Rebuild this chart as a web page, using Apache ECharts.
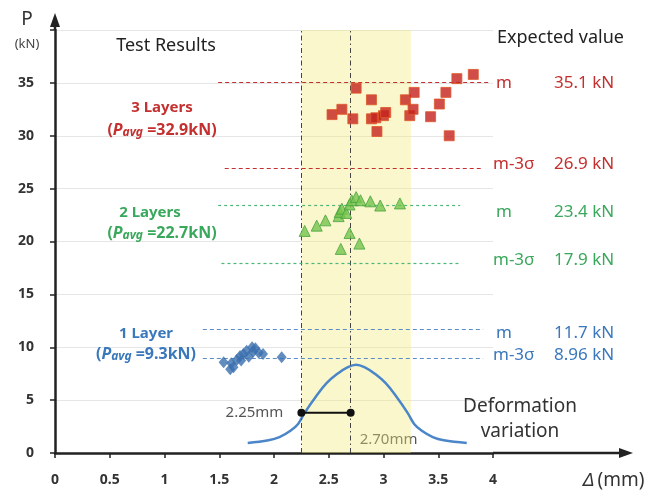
<!DOCTYPE html>
<html>
<head>
<meta charset="utf-8">
<script src="https://cdn.jsdelivr.net/npm/echarts@6/dist/echarts.min.js"></script>
<style>
  html, body { margin: 0; padding: 0; background: #ffffff; }
  #chart { width: 667px; height: 495px; }
</style>
</head>
<body>
<div id="chart"></div>
<script>
// Axis ticks
const xTickValues = [0, 0.5, 1, 1.5, 2, 2.5, 3, 3.5, 4];
const xTickLabels = ['0', '0.5', '1', '1.5', '2', '2.5', '3', '3.5', '4'];
const yTickValues = [0, 5, 10, 15, 20, 25, 30, 35, 40];
const yTickLabels = ['0', '5', '10', '15', '20', '25', '30', '35', ''];

// Test results: [deformation (mm), load P (kN)]
const layer3 = [
  [2.53, 32.0], [2.62, 32.5], [2.72, 31.6], [2.75, 34.5], [2.89, 33.4],
  [2.89, 31.6], [2.93, 31.7], [2.94, 30.4], [3.00, 31.9], [3.02, 32.2],
  [3.20, 33.4], [3.24, 31.9], [3.27, 32.5], [3.28, 34.1], [3.43, 31.8],
  [3.51, 33.0], [3.57, 34.1], [3.60, 30.0], [3.67, 35.4], [3.82, 35.8]
];
const layer2 = [
  [2.28, 21.0], [2.39, 21.5], [2.47, 22.0], [2.59, 22.4], [2.60, 22.8],
  [2.62, 23.1], [2.66, 22.7], [2.69, 23.5], [2.71, 23.9], [2.75, 24.2],
  [2.79, 23.9], [2.88, 23.8], [2.97, 23.4], [3.15, 23.6], [2.69, 20.8],
  [2.61, 19.3], [2.78, 19.8]
];
const layer1 = [
  [1.54, 8.58], [1.60, 7.92], [1.61, 8.49], [1.63, 8.10], [1.66, 8.80],
  [1.69, 9.18], [1.70, 8.74], [1.72, 9.37], [1.75, 9.68], [1.77, 9.11],
  [1.80, 10.0], [1.81, 9.58], [1.83, 9.90], [1.86, 9.49], [1.90, 9.37],
  [2.07, 9.05]
];

// Layer names and average loads
const layerNames = ['3 Layers', '2 Layers', '1 Layer'];
const layerAvg = ['32.9', '22.7', '9.3'];

// Expected values (kN): mean m and m-3σ for 3, 2, 1 layers
const expectedMean = [35.1, 23.4, 11.7];
const expectedLow = [26.9, 17.9, 8.96];

// Deformation variation curve [mm, curve height]
const deformCurve = [
  [1.76, 0.95], [1.95, 1.2], [2.05, 1.5], [2.15, 2.1], [2.22, 2.75],
  [2.28, 3.8], [2.38, 5.3], [2.48, 6.6], [2.58, 7.5], [2.67, 8.1],
  [2.75, 8.35], [2.83, 8.1], [2.92, 7.5], [3.02, 6.6], [3.12, 5.3],
  [3.22, 3.8], [3.28, 2.75], [3.35, 2.1], [3.45, 1.5], [3.55, 1.2],
  [3.76, 0.95]
];
// Deformation markers (mm) and band
const deformMarks = [2.25, 2.70];
const deformMarkLabels = ['2.25mm', '2.70mm'];
const deformBand = [2.25, 3.25];
const deformSpanHeight = 3.8;

const RED = '#c3302f';
const GREEN = '#3aa85c';
const BLUE = '#3a78bc';
const FONT = '"Noto Sans", "Open Sans", sans-serif';

const chart = echarts.init(document.getElementById('chart'), null, { renderer: 'canvas' });

function hLine(value, from, to, color, dash) {
  return [
    { coord: [from, value], lineStyle: { color: color, width: 1.2, type: dash } },
    { coord: [to, value] }
  ];
}

const option = {
  animation: false,
  backgroundColor: '#ffffff',
  textStyle: { fontFamily: FONT },
  grid: { left: 55, right: 174, top: 30, bottom: 42 },
  xAxis: {
    type: 'value', min: 0, max: 4, interval: 0.5,
    axisLine: { show: true, onZero: false, lineStyle: { color: '#222', width: 2.5 } },
    axisTick: { show: true, length: 5, lineStyle: { color: '#222', width: 1.5 } },
    axisLabel: {
      margin: 20, color: '#333', fontSize: 14, fontWeight: 'bold', fontFamily: FONT,
      formatter: v => { const i = xTickValues.indexOf(v); return i >= 0 ? xTickLabels[i] : ''; }
    },
    splitLine: { show: false }
  },
  yAxis: {
    type: 'value', min: 0, max: 40, interval: 5,
    axisLine: { show: true, onZero: false, lineStyle: { color: '#222', width: 2.5 } },
    axisTick: { show: true, length: 5, lineStyle: { color: '#222', width: 1.5 } },
    axisLabel: {
      margin: 21, color: '#333', fontSize: 14, fontWeight: 'bold', fontFamily: FONT,
      formatter: v => { const i = yTickValues.indexOf(v); return i >= 0 ? yTickLabels[i] : ''; }
    },
    splitLine: { show: true, lineStyle: { color: '#e6e6e6', width: 1 } }
  },
  series: [
    {
      // yellow band and the two marker lines
      type: 'line', data: [], silent: true, z: 1,
      markArea: {
        silent: true,
        itemStyle: { color: 'rgba(244,234,120,0.38)' },
        data: [[{ xAxis: deformBand[0] }, { xAxis: deformBand[1] }]]
      },
      markLine: {
        silent: true, symbol: 'none', label: { show: false },
        lineStyle: { color: '#444', width: 1, type: [5, 3, 1.5, 3] },
        data: deformMarks.map(v => ({ xAxis: v }))
      }
    },
    {
      name: '3 Layers', type: 'scatter', symbol: 'rect', symbolSize: 10, z: 5,
      itemStyle: { color: '#c4201d', borderColor: '#de5828', borderWidth: 1 },
      data: layer3,
      markLine: {
        silent: true, symbol: 'none', label: { show: false },
        data: [
          hLine(expectedMean[0], 1.49, 3.97, RED, [4, 3]),
          hLine(expectedLow[0], 1.55, 3.90, RED, [4, 3])
        ]
      }
    },
    {
      name: '2 Layers', type: 'scatter', symbol: 'triangle', symbolSize: 11, z: 5,
      itemStyle: { color: '#76c44e', borderColor: '#48a23e', borderWidth: 1 },
      data: layer2,
      markLine: {
        silent: true, symbol: 'none', label: { show: false },
        data: [
          hLine(expectedMean[1], 1.49, 3.70, '#4cb878', [3, 3]),
          hLine(expectedLow[1], 1.52, 3.70, '#4cb878', [3, 3])
        ]
      }
    },
    {
      name: '1 Layer', type: 'scatter', symbol: 'diamond', symbolSize: [10, 12], z: 5,
      itemStyle: { color: '#3b6fae' },
      data: layer1,
      markLine: {
        silent: true, symbol: 'none', label: { show: false },
        data: [
          hLine(expectedMean[2], 1.35, 3.91, '#5a8cc8', [4, 3]),
          hLine(expectedLow[2], 1.35, 3.91, '#5a8cc8', [4, 3])
        ]
      }
    },
    {
      name: 'Deformation variation', type: 'line', smooth: 0.4, showSymbol: false, z: 4,
      lineStyle: { color: '#4a86c8', width: 2.5 },
      data: deformCurve
    },
    {
      name: 'Deformation span', type: 'line', z: 6,
      symbol: 'circle', symbolSize: 8, showSymbol: true,
      itemStyle: { color: '#111' },
      lineStyle: { color: '#111', width: 2 },
      data: deformMarks.map(v => [v, deformSpanHeight])
    }
  ]
};
chart.setOption(option);

// Decorations that depend on pixel positions of the axes
const px = (x, y) => chart.convertToPixel({ gridIndex: 0 }, [x, y]);
const origin = px(0, 0);
const xEnd = px(4, 0);
const yTop = px(0, 40);

const graphic = [];
// extended axes with arrow heads
graphic.push({ type: 'line', shape: { x1: xEnd[0], y1: origin[1], x2: 622, y2: origin[1] }, style: { stroke: '#222', lineWidth: 2.5 } });
graphic.push({ type: 'polygon', shape: { points: [[619, origin[1] - 5], [633, origin[1]], [619, origin[1] + 5]] }, style: { fill: '#222' } });
graphic.push({ type: 'line', shape: { x1: origin[0], y1: yTop[1], x2: origin[0], y2: 24 }, style: { stroke: '#222', lineWidth: 2.5 } });
graphic.push({ type: 'polygon', shape: { points: [[origin[0] - 5, 27], [origin[0], 13], [origin[0] + 5, 27]] }, style: { fill: '#222' } });

// axis names
graphic.push({ type: 'text', style: { x: 27, y: 20, text: 'P', fill: '#333', font: '19px ' + FONT, align: 'center', verticalAlign: 'middle' } });
graphic.push({ type: 'text', style: { x: 27, y: 44, text: '(kN)', fill: '#444', font: '13px ' + FONT, align: 'center', verticalAlign: 'middle' } });
graphic.push({ type: 'text', style: { x: 583, y: 481, text: '{d|Δ} {m|(mm)}', align: 'left', verticalAlign: 'middle',
  rich: { d: { fontStyle: 'italic', fontSize: 19, fill: '#333', fontFamily: FONT }, m: { fontSize: 19, fill: '#333', fontFamily: FONT } } } });

// headings
graphic.push({ type: 'text', style: { x: 166, y: 46, text: 'Test Results', fill: '#222', font: '18px ' + FONT, align: 'center', verticalAlign: 'middle' } });
graphic.push({ type: 'text', style: { x: 497, y: 38, text: 'Expected value', fill: '#222', font: '18px ' + FONT, align: 'left', verticalAlign: 'middle' } });

// layer labels
const layerColors = [RED, GREEN, BLUE];
const layerLabelPos = [[162, 108, 162, 130], [150, 213, 162, 233], [146, 334, 146, 354]];
layerNames.forEach((name, i) => {
  const p = layerLabelPos[i];
  const c = layerColors[i];
  graphic.push({ type: 'text', z: 10, style: { x: p[0], y: p[1], text: name, fill: c, font: 'bold 15px ' + FONT, align: 'center', verticalAlign: 'middle' } });
  graphic.push({ type: 'text', z: 10, style: {
    x: p[2], y: p[3], align: 'center', verticalAlign: 'middle',
    text: '{n|(}{p|P}{s|avg}{n| =' + layerAvg[i] + 'kN)}',
    rich: {
      n: { fill: c, fontSize: 16, fontWeight: 'bold', fontFamily: FONT },
      p: { fill: c, fontSize: 16, fontWeight: 'bold', fontStyle: 'italic', fontFamily: FONT },
      s: { fill: c, fontSize: 12, fontWeight: 'bold', fontStyle: 'italic', fontFamily: FONT, padding: [5, 0, 0, 0] }
    }
  } });
});

// expected value labels (small vertical nudges keep them clear of the dashed lines)
const meanLabelNudge = [1, 7, 4];
const lowLabelNudge = [-4, -4, -3];
expectedMean.forEach((v, i) => {
  const c = layerColors[i];
  const yM = px(0, v)[1] + meanLabelNudge[i];
  const yL = px(0, expectedLow[i])[1] + lowLabelNudge[i];
  graphic.push({ type: 'text', style: { x: 496, y: yM, text: 'm', fill: c, font: '17px ' + FONT, align: 'left', verticalAlign: 'middle' } });
  graphic.push({ type: 'text', style: { x: 554, y: yM, text: v.toFixed(1) + ' kN', fill: c, font: '17px ' + FONT, align: 'left', verticalAlign: 'middle' } });
  graphic.push({ type: 'text', style: { x: 493, y: yL, text: 'm-3σ', fill: c, font: '17px ' + FONT, align: 'left', verticalAlign: 'middle' } });
  graphic.push({ type: 'text', style: { x: 554, y: yL, text: String(expectedLow[i]) + ' kN', fill: c, font: '17px ' + FONT, align: 'left', verticalAlign: 'middle' } });
});

// deformation labels
const d0 = px(deformMarks[0], deformSpanHeight);
const d1 = px(deformMarks[1], 0);
graphic.push({ type: 'text', style: { x: d0[0] - 18, y: d0[1], text: deformMarkLabels[0], fill: '#555', font: '15px ' + FONT, align: 'right', verticalAlign: 'middle' } });
graphic.push({ type: 'text', style: { x: d1[0] + 9, y: d1[1] - 13, text: deformMarkLabels[1], fill: '#555', font: '15px ' + FONT, align: 'left', verticalAlign: 'middle' } });
graphic.push({ type: 'text', style: { x: 520, y: 407, text: 'Deformation', fill: '#333', font: '19px ' + FONT, align: 'center', verticalAlign: 'middle' } });
graphic.push({ type: 'text', style: { x: 520, y: 432, text: 'variation', fill: '#333', font: '19px ' + FONT, align: 'center', verticalAlign: 'middle' } });

chart.setOption({ graphic: graphic });
</script>
</body>
</html>
